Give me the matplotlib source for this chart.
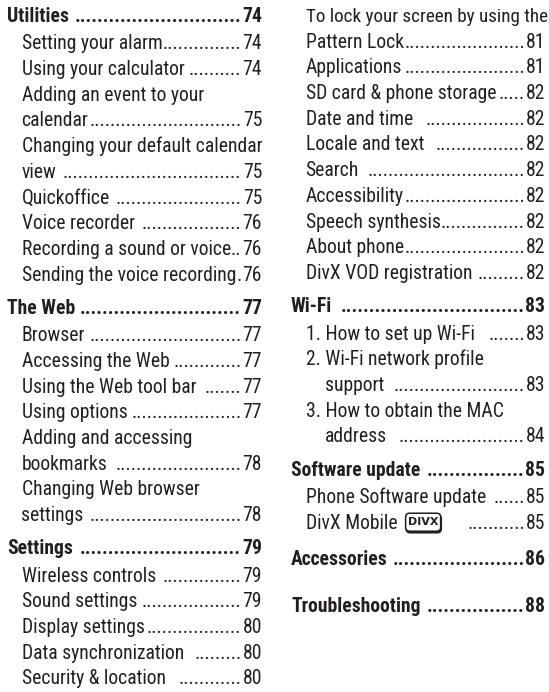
import matplotlib
matplotlib.use('Agg')
import matplotlib.pyplot as plt
from matplotlib.patches import FancyBboxPatch

FONT = ['Roboto Condensed', 'DejaVu Sans']
INK = '#231f20'

# left column: section headings and their entries
left_headings = ["Utilities", "The Web", "Settings "]
left_heading_pages = ["74", "77", "79"]
utilities_items = ["Setting your alarm", "Using your calculator",
                   "Adding an event to your\ncalendar",
                   "Changing your default calendar\nview ",
                   "Quickoffice ", "Voice recorder ",
                   "Recording a sound or voice", "Sending the voice recording"]
utilities_pages = ["74", "74", "75", "75", "75", "76", "76", "76"]
web_items = ["Browser", "Accessing the Web", "Using the Web tool bar ",
             "Using options", "Adding and accessing\nbookmarks ",
             "Changing Web browser\nsettings "]
web_pages = ["77", "77", "77", "77", "78", "78"]
settings_items = ["Wireless controls ", "Sound settings", "Display settings",
                  "Data synchronization  ", "Security & location  "]
settings_pages = ["79", "79", "80", "80", "80"]

# right column
settings_more_items = ["To lock your screen by using the\nPattern Lock",
                       "Applications", "SD card & phone storage",
                       "Date and time  ", "Locale and text  ", "Search ",
                       "Accessibility", "Speech synthesis", "About phone",
                       "DivX VOD registration "]
settings_more_pages = ["81", "81", "82", "82", "82", "82", "82", "82", "82", "82"]
right_headings = ["Wi-Fi ", "Software update ", "Accessories ", "Troubleshooting "]
right_heading_pages = ["83", "85", "86", "88"]
wifi_items = ["1. How to set up Wi-Fi  ", "2. Wi-Fi network profile\nsupport ",
              "3. How to obtain the MAC\naddress  "]
wifi_pages = ["83", "83", "84"]
software_items = ["Phone Software update ", "DivX Mobile "]
software_pages = ["85", "85"]
logo_item = "DivX Mobile "

fig = plt.figure(figsize=(5.49, 6.92), dpi=100)
ax = fig.add_axes([0, 0, 1, 1])
ax.set_xlim(0, 549)
ax.set_ylim(692, 0)
ax.axis('off')
renderer = fig.canvas.get_renderer()


def text_w(s, size, weight='normal'):
    t = ax.text(0, 0, s, fontsize=size, fontweight=weight, family=FONT)
    w = t.get_window_extent(renderer).width
    t.remove()
    return w


# font size chosen so the widest entry fills the column like the page
size = 10 * 240 / text_w("Changing your default calendar", 10)

STEP, HEAD_GAP, SECTION_GAP, HEAD_HEAD, LOGO_EXTRA = 25.7, 27.3, 33.3, 46.4, 3.5


def draw_logo(x, y):
    bw, bh = 35, 18
    shadow = FancyBboxPatch((x + 0.6, y - 14), bw, bh,
                            boxstyle='round,pad=0,rounding_size=4',
                            fc=INK, ec=INK, lw=1.2)
    box = FancyBboxPatch((x, y - 15.5), bw, bh,
                         boxstyle='round,pad=0,rounding_size=4',
                         fc='white', ec=INK, lw=1.1)
    ax.add_patch(shadow)
    ax.add_patch(box)
    ax.text(x + bw / 2, y - 6.3, 'DIVX', fontsize=8, fontweight='bold',
            family='DejaVu Sans', color=INK, ha='center', va='center')
    return x + bw


def draw_line(x, y, label, page, right, weight, logo=False):
    core = label.rstrip(' ')
    space_w = text_w('a a', size, weight) - text_w('aa', size, weight)
    ax.text(x, y, core, fontsize=size, fontweight=weight, family=FONT,
            color=INK, va='baseline')
    end = x + text_w(core, size, weight) + (len(label) - len(core)) * space_w
    if logo:
        end = draw_logo(end + 4, y) + 5 * space_w
    ax.text(right, y, page, fontsize=size, fontweight=weight, family=FONT,
            color=INK, va='baseline', ha='right')
    page_w = text_w(page, size, weight)
    dot_adv = (text_w('.' * 20, size, weight) - text_w('.' * 10, size, weight)) / 10
    n = int((right - page_w - 1 - end) // dot_adv)
    ax.text(right - page_w - 1, y, '.' * n, fontsize=size, fontweight=weight,
            family=FONT, color=INK, va='baseline', ha='right')


def draw_column(blocks, x_head, x_item, right, y0):
    y = y0
    prev = None
    for heading, hpage, items, pages in blocks:
        if heading is not None:
            if prev in ('item', 'logo'):
                y += SECTION_GAP + (LOGO_EXTRA if prev == 'logo' else 0)
            elif prev == 'heading':
                y += HEAD_HEAD
            draw_line(x_head, y, heading, hpage, right, 'bold')
            prev = 'heading'
        for item, page in zip(items, pages):
            lines = item.split('\n')
            indent = 0
            if item[0].isdigit():
                indent = text_w('2.', size) + text_w('a a', size) - text_w('aa', size)
            for i, line in enumerate(lines):
                if prev == 'heading':
                    y += HEAD_GAP
                elif prev is not None:
                    y += STEP
                prev = 'item'
                xi = x_item + (indent if i > 0 else 0)
                if i < len(lines) - 1:
                    # a wrapped first line is kept inside the page edge
                    fs = min(size, size * (549 - xi - 1) / text_w(line, size))
                    ax.text(xi, y, line, fontsize=fs, family=FONT,
                            color=INK, va='baseline')
                else:
                    is_logo = item == logo_item
                    draw_line(xi, y, line, page, right, 'normal', logo=is_logo)
                    if is_logo:
                        prev = 'logo'


left_blocks = [
    (left_headings[0], left_heading_pages[0], utilities_items, utilities_pages),
    (left_headings[1], left_heading_pages[1], web_items, web_pages),
    (left_headings[2], left_heading_pages[2], settings_items, settings_pages),
]
right_blocks = [
    (None, None, settings_more_items, settings_more_pages),
    (right_headings[0], right_heading_pages[0], wifi_items, wifi_pages),
    (right_headings[1], right_heading_pages[1], software_items, software_pages),
    (right_headings[2], right_heading_pages[2], [], []),
    (right_headings[3], right_heading_pages[3], [], []),
]

draw_column(left_blocks, 7, 21.5, 262, 22)
draw_column(right_blocks, 291, 305.5, 545.5, 22)

fig.savefig('out.png', dpi=100, facecolor='white')
